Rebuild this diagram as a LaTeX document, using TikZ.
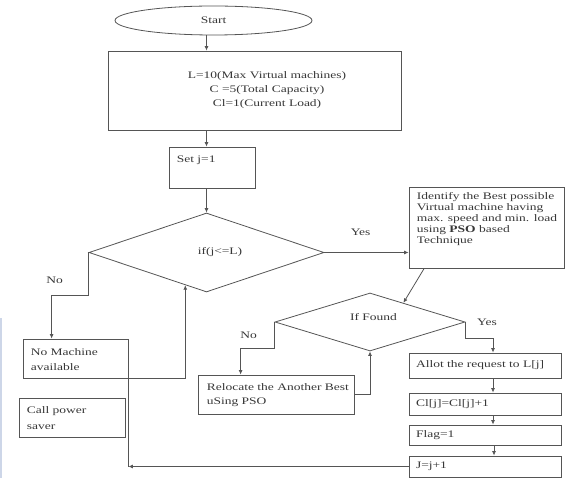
\documentclass[tikz,border=0pt]{standalone}
\usepackage{fontspec}
\setmainfont[FakeStretch=1.35]{Liberation Serif}
\usepackage{tikz}
\usetikzlibrary{arrows.meta,calc,shapes.geometric,positioning}
\definecolor{linegray}{RGB}{85,85,85}
\definecolor{textgray}{RGB}{55,55,55}
\definecolor{edgeblue}{RGB}{205,214,232}

\begin{document}
\begin{tikzpicture}[x=1pt,y=-1pt,font=\fontsize{10}{11}\selectfont,text=textgray]
    \tikzset{BoxStyle/.style={draw=linegray, line width=.8pt, rectangle, inner sep=0pt},
      DecisionStyle/.style={draw=linegray, line width=.8pt, diamond, inner sep=0pt},
      InText/.style={anchor=north west, align=left, inner xsep=8pt, inner ysep=0pt},
      RowStyle/.style={BoxStyle, minimum width=152pt, text width=138pt, align=left},
      EdgeStyle/.style={draw=linegray, line width=.8pt, -{Latex[length=4.5pt,width=4pt]}}}
    \useasboundingbox (0,0) rectangle (565,478);
    \fill[edgeblue] (0,318) rectangle (2,478);
    \node[BoxStyle, ellipse, minimum width=197pt, minimum height=29pt] (start) at (213.5,20.5) {Start};
    \node[BoxStyle, minimum width=293pt, minimum height=79pt,
      label={[xshift=12.5pt, align=center, font=\fontsize{10}{14}\selectfont]center:{L=10(Max Virtual machines)\\C =5(Total Capacity)\\Cl=1(Current Load)}}] (init) at (254.5,90.5) {};
    \node[BoxStyle, minimum width=86pt, minimum height=41pt,
      label={[InText, yshift=-9.5pt]north west:{Set j=1}}] (setj) at (212,167.5) {};
    \node[DecisionStyle, minimum width=235pt, minimum height=79pt,
      label={[xshift=13.5pt]center:{if(j<=L)}}] (cond) at (206.5,252.5) {};
    \node[BoxStyle, minimum width=155pt, minimum height=81pt,
      label={[InText, yshift=-5.5pt]north west:{Identify the Best possible\\Virtual machine having\\max. speed and min. load\\using \textbf{PSO} based\\Technique}}] (identify) at (486.5,227.5) {};
    \node[DecisionStyle, minimum width=190pt, minimum height=58pt,
      label={[xshift=3.5pt, yshift=5pt]center:{If Found}}] (found) at (370,322) {};
    \node[BoxStyle, minimum width=105pt, minimum height=39pt,
      label={[InText, yshift=-9.5pt, font=\fontsize{10}{15}\selectfont]north west:{No Machine\\available}}] (nomach) at (75.5,358.5) {};
    \node[BoxStyle, minimum width=106pt, minimum height=39pt,
      label={[InText, yshift=-8.5pt, font=\fontsize{10}{16}\selectfont]north west:{Call power\\saver}}] (saver) at (72,417.5) {};
    \node[BoxStyle, minimum width=156pt, minimum height=39pt,
      label={[InText, inner xsep=9pt, yshift=-8.5pt, font=\fontsize{10}{14}\selectfont]north west:{Relocate the Another Best\\uSing PSO}}] (relocate) at (276,394.5) {};
    \node[RowStyle, minimum height=25pt] (allot) at (485,365.5) {Allot the request to L[j]};
    \node[RowStyle, minimum height=22pt] (load) at (485,404) {Cl[j]=Cl[j]+1};
    \node[RowStyle, minimum height=20pt] (flag) at (485,435) {Flag=1};
    \node[RowStyle, minimum height=21pt] (next) at (485,466.5) {J=j+1};
    \draw[EdgeStyle] (start.south -| cond.north) -- (init.north -| cond.north);
    \draw[EdgeStyle] (init.south -| cond.north) -- (setj.north -| cond.north);
    \draw[EdgeStyle] (setj.south -| cond.north) -- (cond.north);
    \draw[EdgeStyle] (cond.east) -- (cond.east -| identify.west) node[pos=.43, above=13pt] {Yes};
    \draw[EdgeStyle] ($(identify.south west)!.1!(identify.south east)$) -- ($(found.north)!.35!(found.east)$);
    \draw[EdgeStyle] (cond.west) -- ++(0,43) node[pos=.65, left=22pt] {No} -| ($(nomach.north west)+(29,0)$);
    \draw[EdgeStyle] (found.west) -- ++(0,26) node[midway, left=14pt] {No} -| ($(relocate.north west)+(43,0)$);
    \draw[EdgeStyle] (relocate.east) -| (found.south);
    \draw[EdgeStyle] (found.east) node[right=8pt] {Yes} -- ++(0,16) -| ($(allot.north)+(8,0)$);
    \draw[EdgeStyle] ($(allot.south)+(8,0)$) -- ($(load.north)+(8,0)$);
    \draw[EdgeStyle] ($(load.south)+(8,0)$) -- ($(flag.north)+(8,0)$);
    \draw[EdgeStyle] ($(flag.south)+(9,0)$) -- ($(next.north)+(9,0)$);
    \coordinate (back) at (next.west -| nomach.south east);
    \draw[EdgeStyle] (next.west) -- (back);
    \draw[EdgeStyle] (back) -- (nomach.south east) -| ($(cond.west)!.82!(cond.south)$);
\end{tikzpicture}
\end{document}
